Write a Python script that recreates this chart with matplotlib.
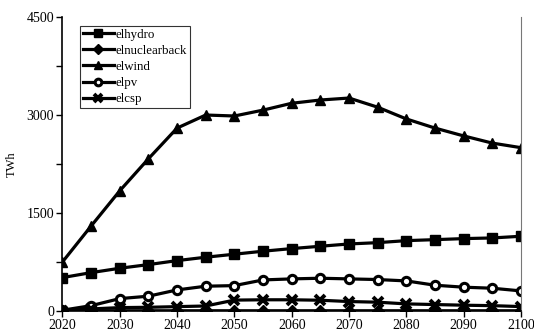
import numpy as np
import matplotlib.pyplot as plt

plt.rcParams['font.family'] = ['Liberation Serif', 'DejaVu Serif']

# Electricity generation by technology, TWh
years = np.arange(2020, 2101, 5)
elhydro = [510, 586, 653, 709, 770, 822, 868, 914, 954, 990, 1025, 1045, 1076, 1091, 1107, 1117, 1143]
elnuclearback = [5, 2, 2, 2, 2, 2, 2, 2, 2, 2, 2, 2, 2, 2, 2, 2, 2]
elwind = [750, 1300, 1840, 2330, 2800, 3000, 2985, 3075, 3180, 3230, 3260, 3120, 2940, 2800, 2680, 2570, 2500]
elpv = [10, 80, 188, 225, 321, 378, 387, 474, 490, 500, 490, 480, 459, 393, 363, 347, 306]
elcsp = [5, 30, 50, 55, 65, 75, 165, 170, 170, 163, 143, 133, 107, 97, 87, 80, 66]

series = [
    ('elhydro', elhydro, 's'),
    ('elnuclearback', elnuclearback, 'D'),
    ('elwind', elwind, '^'),
    ('elpv', elpv, 'o'),
    ('elcsp', elcsp, 'x'),
]

fig = plt.figure(figsize=(5.34, 3.35), dpi=100)
ax = fig.add_axes([0.117, 0.072, 0.8585, 0.877])

for name, vals, mk in series:
    kw = dict(markersize=7)
    if mk == 'o':
        kw.update(markerfacecolor='white', markeredgewidth=2.2, markersize=6)
    elif mk == 'x':
        kw.update(markeredgewidth=2.8)
    elif mk == 'D':
        kw.update(markersize=6.5)
    ax.plot(years, vals, color='black', linewidth=2.3, marker=mk, label=name, **kw)

ax.set_xlim(2020, 2100)
ax.set_ylim(0, 4500)
ax.set_xticks(np.arange(2020, 2101, 10))
ax.set_yticks([0, 1500, 3000, 4500])
ax.set_yticks(np.arange(0, 4501, 750), minor=True)
ax.tick_params(axis='both', labelsize=10, direction='out', length=4, width=1, pad=2)
ax.tick_params(axis='y', which='minor', length=4, width=1)
ax.set_ylabel('TWh', fontsize=9, labelpad=6)

ax.spines['top'].set_visible(False)
ax.spines['right'].set_color('#777777')
ax.spines['right'].set_linewidth(0.8)
ax.spines['left'].set_linewidth(1.2)
ax.spines['bottom'].set_linewidth(1.2)

leg = ax.legend(loc='upper left', bbox_to_anchor=(0.0385, 0.97), fontsize=9.3,
                frameon=True, fancybox=False, edgecolor='black', handlelength=2.4,
                handletextpad=0.15, labelspacing=0.32, borderpad=0.2, borderaxespad=0,
                markerscale=0.8)
leg.get_frame().set_linewidth(0.8)

fig.savefig('out.png', dpi=100)
